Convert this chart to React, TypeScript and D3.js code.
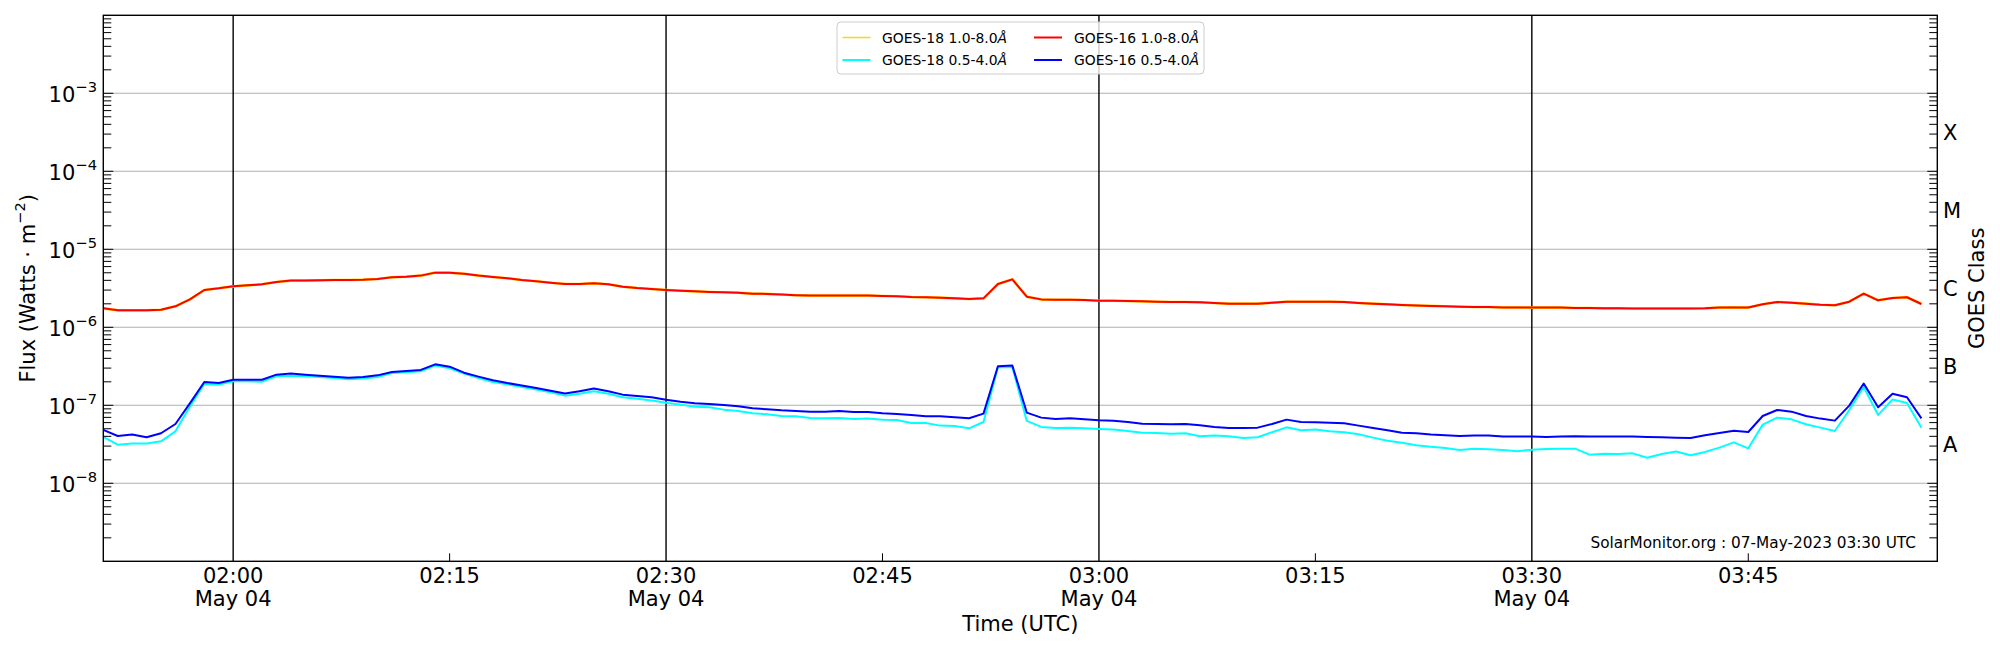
import React, { useEffect } from 'react';
import * as d3 from 'd3';

// ---------- data (1-minute cadence starting 2023-05-04 01:51 UTC) ----------
const startTime = Date.UTC(2023, 4, 4, 1, 51, 0);
const endTime = Date.UTC(2023, 4, 4, 3, 58, 6);

// GOES-16 1.0-8.0 Å, in units of 1e-6 W/m^2
const goes16LongE6 = [
  1.75, 1.65, 1.65, 1.65, 1.68, 1.86, 2.28, 3.01, 3.16, 3.35,
  3.45, 3.56, 3.81, 3.97, 3.97, 4.0, 4.04, 4.04, 4.08, 4.17,
  4.38, 4.46, 4.6, 5.02, 5.02, 4.87, 4.6, 4.42, 4.25, 4.04,
  3.89, 3.73, 3.59, 3.59, 3.66, 3.56, 3.32, 3.19, 3.1, 3.01,
  2.95, 2.89, 2.84, 2.81, 2.78, 2.7, 2.68, 2.63, 2.58, 2.55,
  2.55, 2.55, 2.55, 2.55, 2.52, 2.5, 2.45, 2.43, 2.4, 2.35,
  2.31, 2.35, 3.59, 4.12, 2.47, 2.28, 2.26, 2.26, 2.24, 2.19,
  2.19, 2.17, 2.15, 2.13, 2.11, 2.11, 2.09, 2.05, 2.01, 2.01,
  2.01, 2.07, 2.13, 2.13, 2.13, 2.13, 2.11, 2.05, 2.01, 1.97,
  1.93, 1.9, 1.88, 1.86, 1.84, 1.82, 1.82, 1.8, 1.8, 1.79,
  1.79, 1.79, 1.77, 1.77, 1.75, 1.75, 1.74, 1.74, 1.74, 1.74,
  1.74, 1.75, 1.79, 1.8, 1.79, 1.97, 2.11, 2.07, 2.01, 1.95,
  1.92, 2.13, 2.7, 2.22, 2.38, 2.43, 1.99,
];

// GOES-18 1.0-8.0 Å lies underneath GOES-16 (indistinguishable in the picture)
const goes18LongE6 = goes16LongE6;

// GOES-16 0.5-4.0 Å, in units of 1e-7 W/m^2
const goes16ShortE7 = [
  0.483, 0.404, 0.421, 0.389, 0.438, 0.576, 1.06, 1.99, 1.93, 2.13,
  2.13, 2.13, 2.47, 2.55, 2.47, 2.4, 2.33, 2.26, 2.31, 2.42,
  2.68, 2.76, 2.84, 3.35, 3.13, 2.62, 2.33, 2.09, 1.93, 1.8,
  1.67, 1.54, 1.42, 1.51, 1.64, 1.51, 1.37, 1.32, 1.27, 1.18,
  1.11, 1.06, 1.04, 1.01, 0.971, 0.915, 0.889, 0.863, 0.846, 0.829,
  0.829, 0.846, 0.821, 0.821, 0.79, 0.774, 0.752, 0.723, 0.723, 0.702,
  0.681, 0.782, 3.16, 3.23, 0.805, 0.695, 0.668, 0.681, 0.661, 0.642,
  0.636, 0.611, 0.582, 0.576, 0.571, 0.576, 0.554, 0.528, 0.512, 0.512,
  0.517, 0.576, 0.655, 0.611, 0.605, 0.599, 0.588, 0.549, 0.512, 0.478,
  0.446, 0.438, 0.421, 0.412, 0.404, 0.409, 0.409, 0.397, 0.397, 0.397,
  0.393, 0.397, 0.4, 0.397, 0.397, 0.397, 0.397, 0.393, 0.389, 0.385,
  0.382, 0.412, 0.442, 0.473, 0.455, 0.73, 0.871, 0.829, 0.73, 0.675,
  0.636, 0.99, 1.9, 0.943, 1.41, 1.27, 0.681,
];

// GOES-18 0.5-4.0 Å, in units of 1e-7 W/m^2
const goes18ShortE7 = [
  0.393, 0.313, 0.323, 0.323, 0.345, 0.464, 0.961, 1.88, 1.84, 2.03,
  2.03, 2.01, 2.35, 2.4, 2.35, 2.31, 2.24, 2.15, 2.2, 2.31,
  2.6, 2.65, 2.73, 3.23, 2.98, 2.55, 2.24, 1.99, 1.86, 1.72,
  1.59, 1.47, 1.33, 1.41, 1.51, 1.41, 1.27, 1.21, 1.15, 1.08,
  1.02, 0.961, 0.943, 0.88, 0.846, 0.79, 0.767, 0.73, 0.723, 0.688,
  0.681, 0.688, 0.668, 0.675, 0.655, 0.649, 0.594, 0.594, 0.549, 0.543,
  0.507, 0.611, 3.07, 3.07, 0.63, 0.528, 0.512, 0.517, 0.507, 0.497,
  0.488, 0.469, 0.446, 0.442, 0.433, 0.438, 0.4, 0.409, 0.4, 0.382,
  0.389, 0.451, 0.522, 0.478, 0.488, 0.464, 0.451, 0.425, 0.385, 0.352,
  0.332, 0.307, 0.295, 0.284, 0.268, 0.278, 0.273, 0.268, 0.257, 0.27,
  0.275, 0.278, 0.278, 0.233, 0.24, 0.238, 0.242, 0.213, 0.238, 0.255,
  0.229, 0.252, 0.287, 0.335, 0.281, 0.565, 0.695, 0.661, 0.571, 0.517,
  0.469, 0.871, 1.72, 0.752, 1.19, 1.07, 0.517,
];

const seriesNames = ['GOES-18 1.0-8.0', 'GOES-18 0.5-4.0', 'GOES-16 1.0-8.0', 'GOES-16 0.5-4.0'];
const seriesColors = ['#ffd700', '#00ffff', '#ff0000', '#0000ff'];
const decadeExponents = [-8, -7, -6, -5, -4, -3];
const goesClasses = ['A', 'B', 'C', 'M', 'X'];
const classMidExponents = [-7.5, -6.5, -5.5, -4.5, -3.5];
const watermark = 'SolarMonitor.org : 07-May-2023 03:30 UTC';

const FONT = "'DejaVu Sans', Verdana, sans-serif";

export default function App() {
  useEffect(() => {
    document.body.style.margin = '0';
  }, []);

  const W = 2000;
  const H = 650;
  const L = 103.3;
  const R = 1937.3;
  const T = 15.3;
  const B = 561.3;

  const x = d3.scaleUtc().domain([new Date(startTime), new Date(endTime)]).range([L, R]);
  const y = d3.scaleLog().domain([1e-9, 1e-2]).range([B, T]);

  const toSeries = (arr: number[], unit: number) =>
    arr.map((v, i) => ({ t: new Date(startTime + i * 60000), v: v * unit }));

  const series = [
    toSeries(goes18LongE6, 1e-6),
    toSeries(goes18ShortE7, 1e-7),
    toSeries(goes16LongE6, 1e-6),
    toSeries(goes16ShortE7, 1e-7),
  ];
  const seriesWidths = [2.6, 2, 2, 2];

  const line = d3
    .line<{ t: Date; v: number }>()
    .x((d) => x(d.t))
    .y((d) => y(d.v));

  const xTicks = x.ticks(d3.utcMinute.every(15) as d3.TimeInterval);
  const fmtTime = d3.utcFormat('%H:%M');
  const fmtDate = d3.utcFormat('%b %d');

  const minorY: number[] = [];
  for (let k = -9; k <= -3; k++) {
    for (let m = 2; m <= 9; m++) minorY.push(m * Math.pow(10, k));
  }
  const majorY = decadeExponents.map((e) => Math.pow(10, e));

  const tickFs = 21;
  const supFs = 14.7;

  // legend layout
  const lgX = 837;
  const lgY = 22;
  const lgW = 367;
  const lgH = 52;
  const colHandleX = [842.5, 1034];
  const colTextX = [882, 1074];
  const rowY = [37.5, 60];
  const legendPos = [
    { c: 0, r: 0 },
    { c: 0, r: 1 },
    { c: 1, r: 0 },
    { c: 1, r: 1 },
  ];

  return (
    <div style={{ position: 'fixed', left: 0, top: 0 }}>
      <svg width={W} height={H} viewBox={`0 0 ${W} ${H}`} style={{ display: 'block', background: '#fff' }} fontFamily={FONT}>
        <rect x={0} y={0} width={W} height={H} fill="#fff" />

        {/* horizontal grid */}
        {majorY.map((v) => (
          <line key={'g' + v} x1={L} x2={R} y1={y(v)} y2={y(v)} stroke="#b0b0b0" strokeWidth={1.1} />
        ))}

        {/* vertical black lines at 30-minute marks */}
        {xTicks
          .filter((t) => t.getUTCMinutes() % 30 === 0)
          .map((t) => (
            <line key={'v' + t.getTime()} x1={x(t)} x2={x(t)} y1={T} y2={B} stroke="#000" strokeWidth={1.4} />
          ))}

        {/* data lines */}
        <g fill="none" strokeLinejoin="round">
          {series.map((s, i) => (
            <path key={seriesNames[i]} d={line(s) || ''} stroke={seriesColors[i]} strokeWidth={seriesWidths[i]} />
          ))}
        </g>

        {/* y ticks left & right (inward) */}
        {minorY.map((v) => (
          <g key={'mt' + v}>
            <line x1={L} x2={L + 8} y1={y(v)} y2={y(v)} stroke="#000" strokeWidth={1} />
            <line x1={R} x2={R - 8} y1={y(v)} y2={y(v)} stroke="#000" strokeWidth={1} />
          </g>
        ))}
        {majorY.map((v) => (
          <g key={'Mt' + v}>
            <line x1={L} x2={L + 10} y1={y(v)} y2={y(v)} stroke="#000" strokeWidth={1} />
            <line x1={R} x2={R - 10} y1={y(v)} y2={y(v)} stroke="#000" strokeWidth={1} />
          </g>
        ))}

        {/* y tick labels */}
        {decadeExponents.map((e) => (
          <text key={'yl' + e} x={97} y={y(Math.pow(10, e)) + 9} textAnchor="end" fontSize={tickFs} fill="#000">
            <tspan>10</tspan>
            <tspan dy={-10} fontSize={supFs}>{'\u2212' + Math.abs(e)}</tspan>
          </text>
        ))}

        {/* x ticks */}
        {xTicks
          .filter((t) => t.getUTCMinutes() % 30 !== 0)
          .map((t) => (
            <line key={'xt' + t.getTime()} x1={x(t)} x2={x(t)} y1={B} y2={B - 8} stroke="#000" strokeWidth={1} />
          ))}
        {xTicks.map((t) => (
          <text key={'xl' + t.getTime()} x={x(t)} y={583} textAnchor="middle" fontSize={tickFs} fill="#000">
            {fmtTime(t)}
          </text>
        ))}
        {xTicks
          .filter((t) => t.getUTCMinutes() % 30 === 0)
          .map((t) => (
            <text key={'xd' + t.getTime()} x={x(t)} y={606} textAnchor="middle" fontSize={tickFs} fill="#000">
              {fmtDate(t)}
            </text>
          ))}

        {/* axis labels */}
        <text x={(L + R) / 2} y={631} textAnchor="middle" fontSize={tickFs} fill="#000">
          Time (UTC)
        </text>
        <text transform={`translate(35, ${(T + B) / 2}) rotate(-90)`} textAnchor="middle" fontSize={tickFs} fill="#000">
          <tspan>Flux (Watts · m</tspan>
          <tspan dy={-10} fontSize={supFs}>{'\u22122'}</tspan>
          <tspan dy={10}>)</tspan>
        </text>

        {/* GOES class labels on right */}
        {goesClasses.map((c, i) => (
          <text key={'c' + c} x={1943} y={y(Math.pow(10, classMidExponents[i])) + 7.5} fontSize={tickFs} fill="#000">
            {c}
          </text>
        ))}
        <text transform={`translate(1984, ${(T + B) / 2}) rotate(-90)`} textAnchor="middle" fontSize={tickFs} fill="#000">
          GOES Class
        </text>

        {/* watermark */}
        <text x={1916} y={548} textAnchor="end" fontSize={15.3} fill="#000">
          {watermark}
        </text>

        {/* frame */}
        <rect x={L} y={T} width={R - L} height={B - T} fill="none" stroke="#000" strokeWidth={1.4} />

        {/* legend */}
        <rect x={lgX} y={lgY} width={lgW} height={lgH} rx={4} fill="#fff" fillOpacity={0.8} stroke="#cccccc" strokeWidth={1} />
        {seriesNames.map((n, i) => {
          const p = legendPos[i];
          const yy = rowY[p.r];
          return (
            <g key={'lg' + n}>
              <line x1={colHandleX[p.c]} x2={colHandleX[p.c] + 28} y1={yy} y2={yy} stroke={seriesColors[i]} strokeWidth={i === 0 ? 1.5 : 2} />
              <text x={colTextX[p.c]} y={yy + 5} fontSize={13.9} fill="#000">
                <tspan>{n}</tspan>
                <tspan fontStyle="italic">Å</tspan>
              </text>
            </g>
          );
        })}
      </svg>
    </div>
  );
}
